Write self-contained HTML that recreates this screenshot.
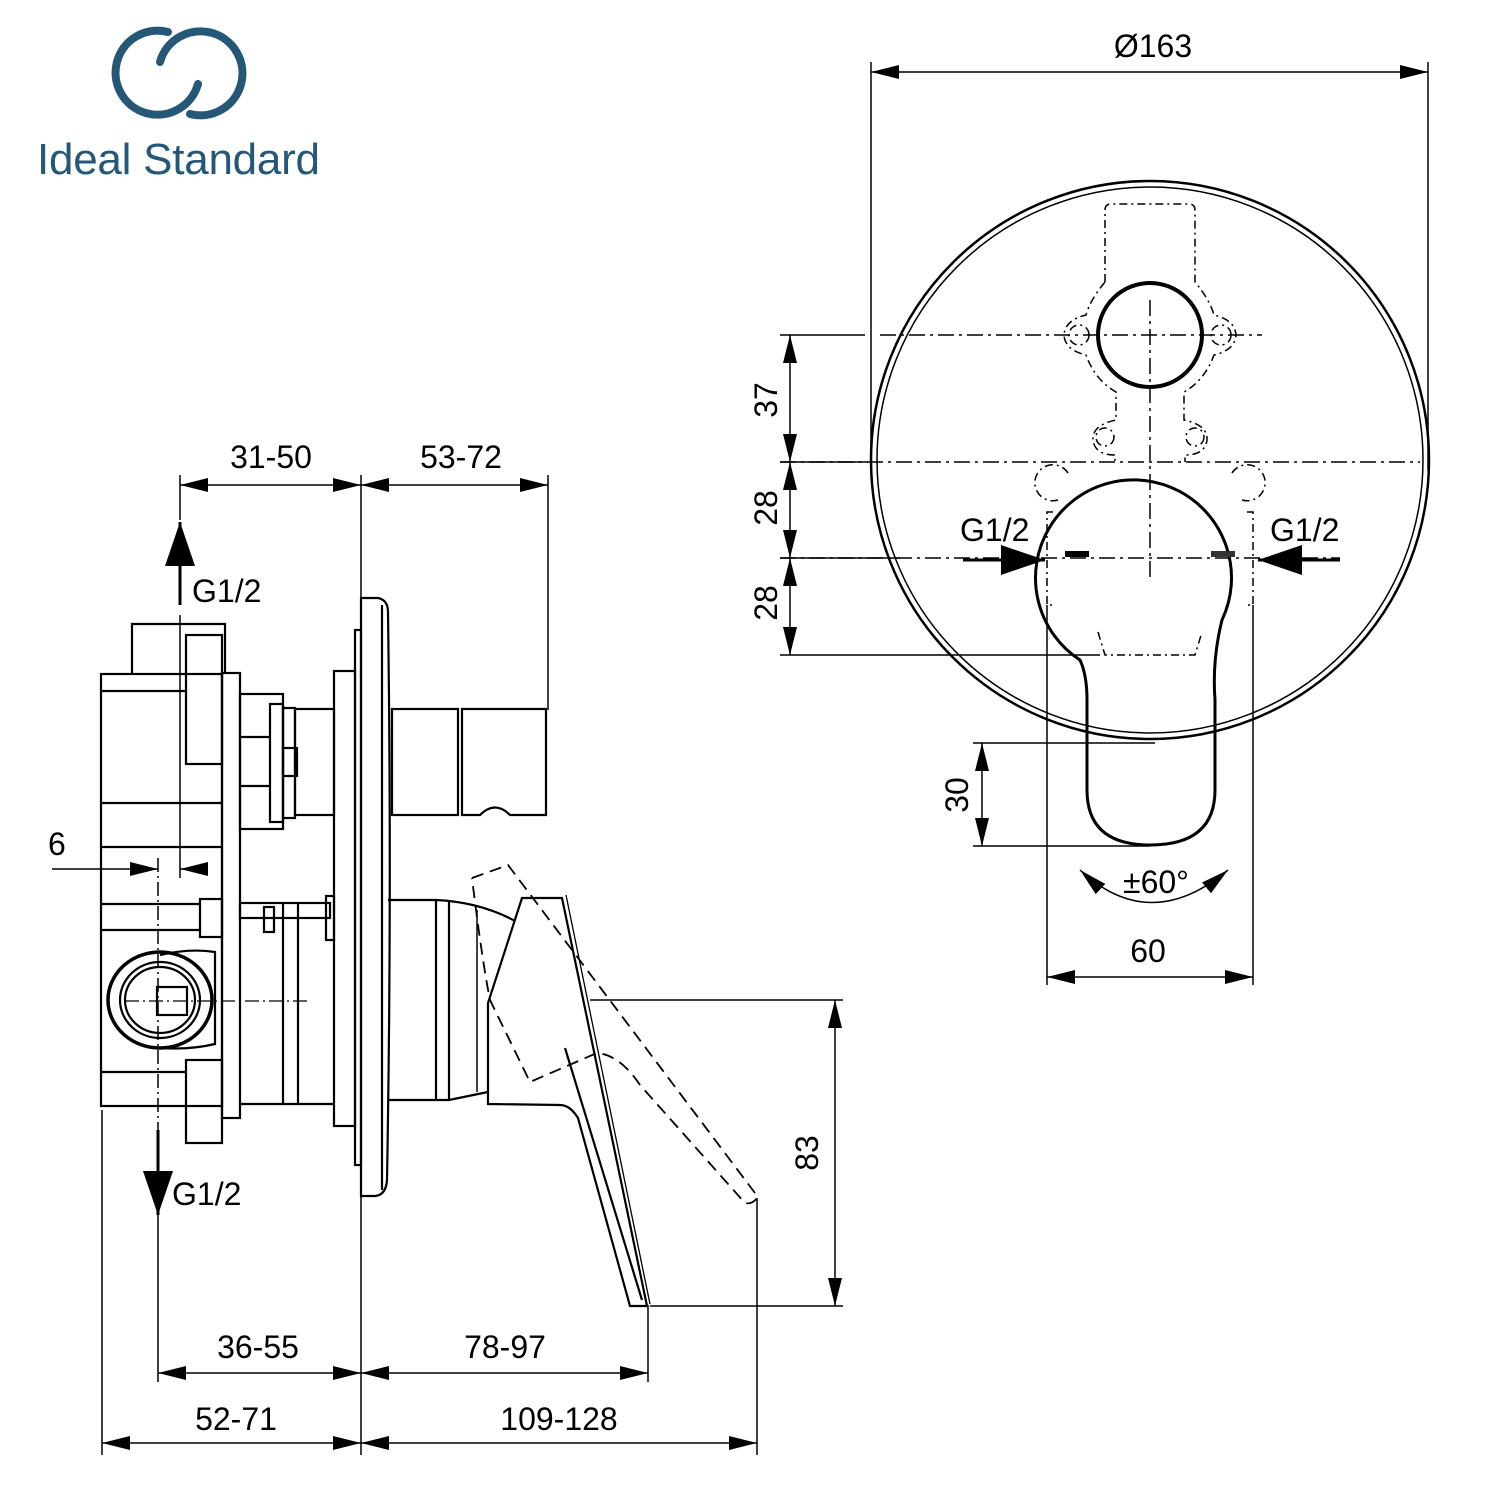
<!DOCTYPE html>
<html><head><meta charset="utf-8"><style>
html,body{margin:0;padding:0;background:#fff}
svg{display:block}
text{font-family:"Liberation Sans",Arial,sans-serif;fill:#000}
</style></head><body>
<svg width="1500" height="1500" viewBox="0 0 1500 1500" xmlns="http://www.w3.org/2000/svg">
<defs>
<marker id="a" markerUnits="userSpaceOnUse" markerWidth="28" markerHeight="14" refX="28" refY="7" orient="auto-start-reverse"><path d="M0,0 L28,7 L0,14 z" fill="#000"/></marker>
<marker id="b" markerUnits="userSpaceOnUse" markerWidth="44" markerHeight="30" refX="44" refY="15" orient="auto-start-reverse"><path d="M0,0 L44,15 L0,30 z" fill="#000"/></marker>
</defs>

<!-- Logo -->
<g fill="none" stroke="#245876" stroke-width="8" stroke-linecap="round">
<path d="M168,32 A42,42 0 1,0 198,84"/>
<path d="M190,114 A42,42 0 1,0 160,62"/>
</g>
<text x="37" y="174" font-size="44" textLength="283" style="fill:#245876">Ideal Standard</text>

<g fill="none" stroke="#000" stroke-width="1.5">
<line x1="180" y1="485" x2="361" y2="485" marker-start="url(#a)" marker-end="url(#a)"/>
<line x1="361" y1="485" x2="548" y2="485" marker-start="url(#a)" marker-end="url(#a)"/>
<line x1="180" y1="475" x2="180" y2="520"/>
<line x1="180" y1="615" x2="180" y2="878"/>
<line x1="361" y1="475" x2="361" y2="598"/>
<line x1="361" y1="1195" x2="361" y2="1455"/>
<line x1="548" y1="475" x2="548" y2="710"/>
<line x1="52" y1="869" x2="158" y2="869" marker-end="url(#a)"/>
<line x1="208" y1="869" x2="180" y2="869" marker-end="url(#a)"/>
<line x1="158" y1="858" x2="158" y2="1130" stroke-dasharray="14,4,2,4"/>
<line x1="158" y1="1215" x2="158" y2="1382"/>
<line x1="158" y1="1373" x2="361" y2="1373" marker-start="url(#a)" marker-end="url(#a)"/>
<line x1="361" y1="1373" x2="648" y2="1373" marker-start="url(#a)" marker-end="url(#a)"/>
<line x1="102" y1="1443" x2="361" y2="1443" marker-start="url(#a)" marker-end="url(#a)"/>
<line x1="361" y1="1443" x2="757" y2="1443" marker-start="url(#a)" marker-end="url(#a)"/>
<line x1="102" y1="1110" x2="102" y2="1455"/>
<line x1="648" y1="1305" x2="648" y2="1382"/>
<line x1="757" y1="1198" x2="757" y2="1455"/>
<line x1="835" y1="1000" x2="835" y2="1306" marker-start="url(#a)" marker-end="url(#a)"/>
<line x1="590" y1="1000" x2="843" y2="1000"/>
<line x1="650" y1="1306" x2="843" y2="1306"/>

<g stroke-width="2.2">
<rect x="101" y="674" width="121" height="432"/>
<path d="M132,674 V624 H225 V674"/>
<rect x="186" y="635" width="36" height="129"/>
<rect x="222" y="673" width="18" height="445"/>
<line x1="101" y1="691" x2="186" y2="691"/>
<line x1="101" y1="803" x2="222" y2="803"/>
<line x1="101" y1="847" x2="222" y2="847"/>
<line x1="101" y1="904" x2="200" y2="904"/>
<line x1="101" y1="930" x2="200" y2="930"/>
<line x1="101" y1="1072" x2="186" y2="1072"/>
<rect x="186" y="1060" width="36" height="83"/>
<rect x="240" y="694" width="43" height="135"/>
<line x1="240" y1="737" x2="270" y2="737"/>
<line x1="240" y1="786" x2="270" y2="786"/>
<rect x="270" y="704" width="13" height="118"/>
<rect x="283" y="708" width="12" height="110"/>
<rect x="283" y="748" width="14" height="28"/>
<rect x="295" y="709" width="39" height="106"/>
<rect x="200" y="899" width="22" height="38"/>
<rect x="240" y="903" width="90" height="15"/>
<rect x="264" y="907" width="10" height="25"/>
<rect x="326" y="896" width="8" height="44"/>
<line x1="283" y1="902" x2="283" y2="1104"/><line x1="298" y1="902" x2="298" y2="1104"/>
<line x1="240" y1="1104" x2="334" y2="1104"/>
<ellipse cx="160" cy="1000" rx="52" ry="48" stroke-width="3.5"/>
<ellipse cx="160" cy="1000" rx="40" ry="38"/>
<ellipse cx="160" cy="1000" rx="35" ry="33"/>
<path d="M160,955 Q190,948 215,952 V1044 Q190,1050 160,1048"/>
<rect x="157" y="987" width="30" height="28"/>
<line x1="125" y1="1001" x2="308" y2="1001" stroke-width="1.3" stroke-dasharray="14,4,2,4"/>
<rect x="334" y="671" width="21" height="455"/>
<rect x="355" y="630" width="6" height="535"/>
<path d="M361,598 H378 Q388,600 388,612 Q392,900 387,1180 Q386,1195 375,1196 H361 Z"/>
<line x1="382" y1="605" x2="382" y2="1190"/>
<rect x="392" y="709" width="66" height="106"/>
<path d="M462,709 H546 V815 H510 Q495,800 480,815 H462 Z"/>
<path d="M388,900 H436 Q480,902 515,921"/>
<path d="M388,1100 H449 L488,1092"/>
<line x1="436" y1="900" x2="436" y2="1100"/>
<line x1="449" y1="902" x2="449" y2="1100"/>
<line x1="477" y1="910" x2="477" y2="1092" stroke-width="1.5"/>
<path d="M522,898 H562 L647,1306 H630 L578,1118 Q570,1105 560,1105 L488,1104 V1003 Z"/>
<line x1="565" y1="1048" x2="642" y2="1300"/>
<line x1="566" y1="895" x2="650" y2="1304" stroke-width="1.3"/>
</g>
<g stroke-width="1.8" stroke-dasharray="12,7">
<path d="M472,878 L508,865 L758,1197 Q752,1205 745,1203 L640,1085 Q620,1055 597,1053 L530,1082 L490,1000 Q482,960 472,878"/>
</g>

<line x1="871" y1="72" x2="1428" y2="72" marker-start="url(#a)" marker-end="url(#a)"/>
<line x1="871" y1="62" x2="871" y2="470"/>
<line x1="1428" y1="62" x2="1428" y2="470"/>
<circle cx="1150" cy="460" r="279" stroke-width="2.5"/>
<circle cx="1150" cy="460" r="273"/>
<line x1="780" y1="335" x2="865" y2="335"/>
<line x1="880" y1="335" x2="1262" y2="335" stroke-dasharray="16,5,3,5"/>
<line x1="780" y1="462" x2="1420" y2="462" stroke-dasharray="16,5,3,5"/>
<line x1="780" y1="462" x2="868" y2="462"/>
<line x1="780" y1="558" x2="1340" y2="558" stroke-dasharray="16,5,3,5"/>
<line x1="780" y1="558" x2="900" y2="558"/>
<line x1="780" y1="655" x2="1100" y2="655"/>
<line x1="790" y1="335" x2="790" y2="462" marker-start="url(#a)" marker-end="url(#a)"/>
<line x1="790" y1="462" x2="790" y2="558" marker-start="url(#a)" marker-end="url(#a)"/>
<line x1="790" y1="558" x2="790" y2="655" marker-start="url(#a)" marker-end="url(#a)"/>
<line x1="1150" y1="300" x2="1150" y2="580" stroke-dasharray="16,5,3,5"/>
<circle cx="1150" cy="335" r="52" stroke-width="4"/>
<g stroke-width="1.5" stroke-dasharray="8,4,2,4">
<path d="M1105,282 V210 Q1105,204 1111,204 H1189 Q1195,204 1195,210 V282 Q1210,300 1214,315 Q1235,320 1236,335 Q1235,350 1214,355 Q1205,380 1184,392 V420 Q1208,425 1207,440 Q1205,455 1185,455 V462"/>
<path d="M1105,282 Q1090,300 1086,315 Q1065,320 1064,335 Q1065,350 1086,355 Q1095,380 1116,392 V420 Q1092,425 1093,440 Q1095,455 1115,455 V462"/>
<circle cx="1079" cy="335" r="10"/><circle cx="1221" cy="335" r="10"/>
<circle cx="1105" cy="437" r="9"/><circle cx="1195" cy="437" r="9"/>
<path d="M1068,473 A18,18 0 1,0 1058,500"/><path d="M1232,473 A18,18 0 1,1 1242,500"/>
<path d="M1053,512 H1047 V605 H1055"/><path d="M1247,512 H1253 V605 H1245"/>
<path d="M1098,632 L1105,655 H1195 L1202,632"/>
</g>
<path d="M1080,660 A98,98 0 1,1 1222,620 Q1212,660 1215,700 V790 Q1215,845 1150,845 Q1087,845 1087,790 V700 Q1087,675 1080,660 Z" stroke-width="3"/>
<line x1="1087" y1="743" x2="1155" y2="743"/>
<line x1="1047" y1="605" x2="1047" y2="985"/>
<line x1="1253" y1="605" x2="1253" y2="985"/>
<line x1="1047" y1="977" x2="1253" y2="977" marker-start="url(#a)" marker-end="url(#a)"/>
<line x1="973" y1="743" x2="1087" y2="743"/>
<line x1="973" y1="846" x2="1150" y2="846"/>
<line x1="982" y1="743" x2="982" y2="846" marker-start="url(#a)" marker-end="url(#a)"/>
<path d="M1080,870 Q1150,935 1228,870" marker-start="url(#a)" marker-end="url(#a)"/>
<line x1="963" y1="560" x2="1045" y2="560" stroke-width="3" marker-end="url(#b)"/>
<line x1="1340" y1="560" x2="1258" y2="560" stroke-width="3" marker-end="url(#b)"/>
<line x1="180" y1="605" x2="180" y2="522" stroke-width="3" marker-end="url(#b)"/>
<line x1="158" y1="1130" x2="158" y2="1215" stroke-width="3" marker-end="url(#b)"/>
</g>
<rect x="1065" y="551" width="24" height="6" fill="#000"/>
<rect x="1211" y="551" width="24" height="6" fill="#333"/>

<g font-size="32">
<text x="1153" y="57" text-anchor="middle">Ø163</text>
<text x="271" y="468" text-anchor="middle">31-50</text>
<text x="461" y="468" text-anchor="middle">53-72</text>
<text x="192" y="602">G1/2</text>
<text x="48" y="855">6</text>
<text x="172" y="1205">G1/2</text>
<text x="258" y="1358" text-anchor="middle">36-55</text>
<text x="505" y="1358" text-anchor="middle">78-97</text>
<text x="236" y="1430" text-anchor="middle">52-71</text>
<text x="559" y="1430" text-anchor="middle">109-128</text>
<text x="960" y="541">G1/2</text>
<text x="1270" y="541">G1/2</text>
<text x="1156" y="893" text-anchor="middle">±60°</text>
<text x="1148" y="962" text-anchor="middle">60</text>
<text transform="translate(777,400) rotate(-90)" text-anchor="middle">37</text>
<text transform="translate(777,508) rotate(-90)" text-anchor="middle">28</text>
<text transform="translate(777,603) rotate(-90)" text-anchor="middle">28</text>
<text transform="translate(968,795) rotate(-90)" text-anchor="middle">30</text>
<text transform="translate(818,1153) rotate(-90)" text-anchor="middle">83</text>
</g>
</svg>
</body></html>
